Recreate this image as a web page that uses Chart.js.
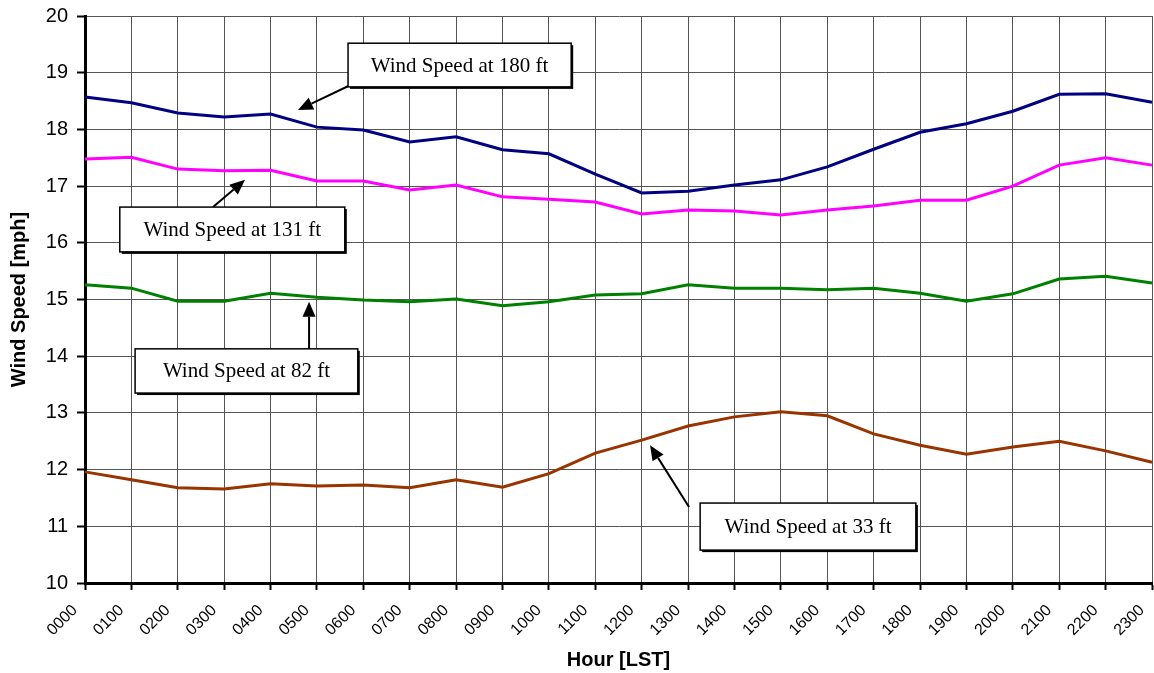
<!DOCTYPE html>
<html>
<head>
<meta charset="utf-8">
<script src="https://cdn.jsdelivr.net/npm/chart.js@4/dist/chart.umd.min.js"></script>
<style>
  html, body { margin: 0; padding: 0; background: #fff; }
  #wrap { width: 1154px; height: 673px; }
</style>
</head>
<body>
<div id="wrap"><canvas id="c" width="1154" height="673"></canvas></div>
<script>
const hours = ["0000","0100","0200","0300","0400","0500","0600","0700","0800","0900","1000","1100",
               "1200","1300","1400","1500","1600","1700","1800","1900","2000","2100","2200","2300"];
const ws180 = [18.57,18.47,18.29,18.22,18.27,18.04,17.99,17.78,17.87,17.64,17.57,17.21,
               16.88,16.91,17.02,17.11,17.34,17.65,17.95,18.10,18.32,18.62,18.63,18.48];
const ws131 = [17.48,17.51,17.30,17.27,17.28,17.09,17.09,16.93,17.02,16.81,16.77,16.72,
               16.51,16.58,16.56,16.49,16.58,16.65,16.75,16.75,17.00,17.37,17.50,17.37];
const ws82  = [15.26,15.20,14.97,14.97,15.11,15.04,14.99,14.96,15.01,14.89,14.96,15.08,
               15.10,15.26,15.20,15.20,15.17,15.20,15.11,14.97,15.10,15.36,15.41,15.29];
const ws33  = [11.96,11.82,11.68,11.66,11.75,11.71,11.73,11.68,11.82,11.69,11.93,12.29,
               12.52,12.77,12.93,13.02,12.95,12.63,12.43,12.27,12.40,12.50,12.33,12.13];
const yTicks = [10,11,12,13,14,15,16,17,18,19,20];

// Callout boxes (data coordinates: x = hour index, y = mph)
const callouts = [
  { text: "Wind Speed at 180 ft", box: [5.67, 19.52, 10.48, 18.75], from: [5.69, 18.77], to: [4.59, 18.34] },
  { text: "Wind Speed at 131 ft", box: [0.75, 16.63, 5.60, 15.84], from: [2.76, 16.63], to: [3.45, 17.11] },
  { text: "Wind Speed at 82 ft",  box: [1.08, 14.13, 5.88, 13.35], from: [4.83, 14.13], to: [4.83, 14.96] },
  { text: "Wind Speed at 33 ft",  box: [13.26, 11.41, 17.91, 10.58], from: [13.02, 11.34], to: [12.18, 12.43] }
];

const calloutPlugin = {
  id: 'callouts',
  afterDatasetsDraw(chart) {
    const ctx = chart.ctx, xs = chart.scales.x, ys = chart.scales.y;
    ctx.save();
    callouts.forEach(c => {
      const x1 = xs.getPixelForValue(c.box[0]), y1 = ys.getPixelForValue(c.box[1]);
      const x2 = xs.getPixelForValue(c.box[2]), y2 = ys.getPixelForValue(c.box[3]);
      const fx = xs.getPixelForValue(c.from[0]), fy = ys.getPixelForValue(c.from[1]);
      const tx = xs.getPixelForValue(c.to[0]), ty = ys.getPixelForValue(c.to[1]);
      const ang = Math.atan2(ty - fy, tx - fx);
      const hl = 15, hw = 6.5;
      const bx = tx - hl * Math.cos(ang), by = ty - hl * Math.sin(ang);
      ctx.strokeStyle = '#000'; ctx.lineWidth = 2;
      ctx.beginPath(); ctx.moveTo(fx, fy); ctx.lineTo(bx, by); ctx.stroke();
      ctx.fillStyle = '#000';
      ctx.beginPath();
      ctx.moveTo(tx, ty);
      ctx.lineTo(bx + hw * Math.sin(ang), by - hw * Math.cos(ang));
      ctx.lineTo(bx - hw * Math.sin(ang), by + hw * Math.cos(ang));
      ctx.closePath(); ctx.fill();
      ctx.fillStyle = '#000';
      ctx.fillRect(x1 + 2, y1 + 2, x2 - x1, y2 - y1);
      ctx.fillStyle = '#fff';
      ctx.fillRect(x1, y1, x2 - x1, y2 - y1);
      ctx.strokeStyle = '#000'; ctx.lineWidth = 1.5;
      ctx.strokeRect(x1, y1, x2 - x1, y2 - y1);
      ctx.fillStyle = '#000';
      ctx.font = '21px "Liberation Serif", "Times New Roman", serif';
      ctx.textAlign = 'center'; ctx.textBaseline = 'middle';
      ctx.fillText(c.text, (x1 + x2) / 2, (y1 + y2) / 2 + 1);
    });
    ctx.restore();
  }
};

const mk = (label, data, color) => ({
  label, data, borderColor: color, backgroundColor: color,
  borderWidth: 3, pointRadius: 0, tension: 0, fill: false
});

new Chart(document.getElementById('c'), {
  type: 'line',
  data: {
    labels: hours,
    datasets: [
      mk('Wind Speed at 180 ft', ws180, '#000080'),
      mk('Wind Speed at 131 ft', ws131, '#FF00FF'),
      mk('Wind Speed at 82 ft',  ws82,  '#008000'),
      mk('Wind Speed at 33 ft',  ws33,  '#993300')
    ]
  },
  options: {
    responsive: false,
    animation: false,
    devicePixelRatio: 1,
    layout: { padding: { top: 16, right: 2, left: 0, bottom: 0 } },
    plugins: { legend: { display: false }, tooltip: { enabled: false } },
    scales: {
      x: {
        type: 'category',
        offset: false,
        grid: { color: '#555', lineWidth: 1, tickLength: 7, tickColor: '#000', tickWidth: 2 },
        border: { color: '#000', width: 3 },
        ticks: {
          color: '#000', font: { family: 'Liberation Sans, Arial, sans-serif', size: 16 },
          maxRotation: 45, minRotation: 45, autoSkip: false, padding: 11, labelOffset: -10
        },
        title: {
          display: true, text: 'Hour [LST]', color: '#000',
          font: { family: 'Liberation Sans, Arial, sans-serif', size: 20, weight: 'bold' },
          padding: { top: 0, bottom: 1 }
        },
        afterFit(s) { s.height = 90; s.paddingRight = 0; }
      },
      y: {
        min: 10, max: 20,
        afterBuildTicks(s) { s.ticks = yTicks.map(v => ({ value: v })); },
        grid: { color: '#555', lineWidth: 1, tickLength: 8, tickColor: '#000', tickWidth: 2 },
        border: { color: '#000', width: 3 },
        ticks: {
          color: '#000', font: { family: 'Liberation Sans, Arial, sans-serif', size: 20 },
          padding: 9
        },
        title: {
          display: true, text: 'Wind Speed [mph]', color: '#000',
          font: { family: 'Liberation Sans, Arial, sans-serif', size: 20, weight: 'bold' },
          padding: { top: 7, bottom: 0 }
        },
        afterFit(s) { s.width = 85; s.paddingTop = 0; s.paddingBottom = 0; }
      }
    }
  },
  plugins: [calloutPlugin]
});
</script>
</body>
</html>
